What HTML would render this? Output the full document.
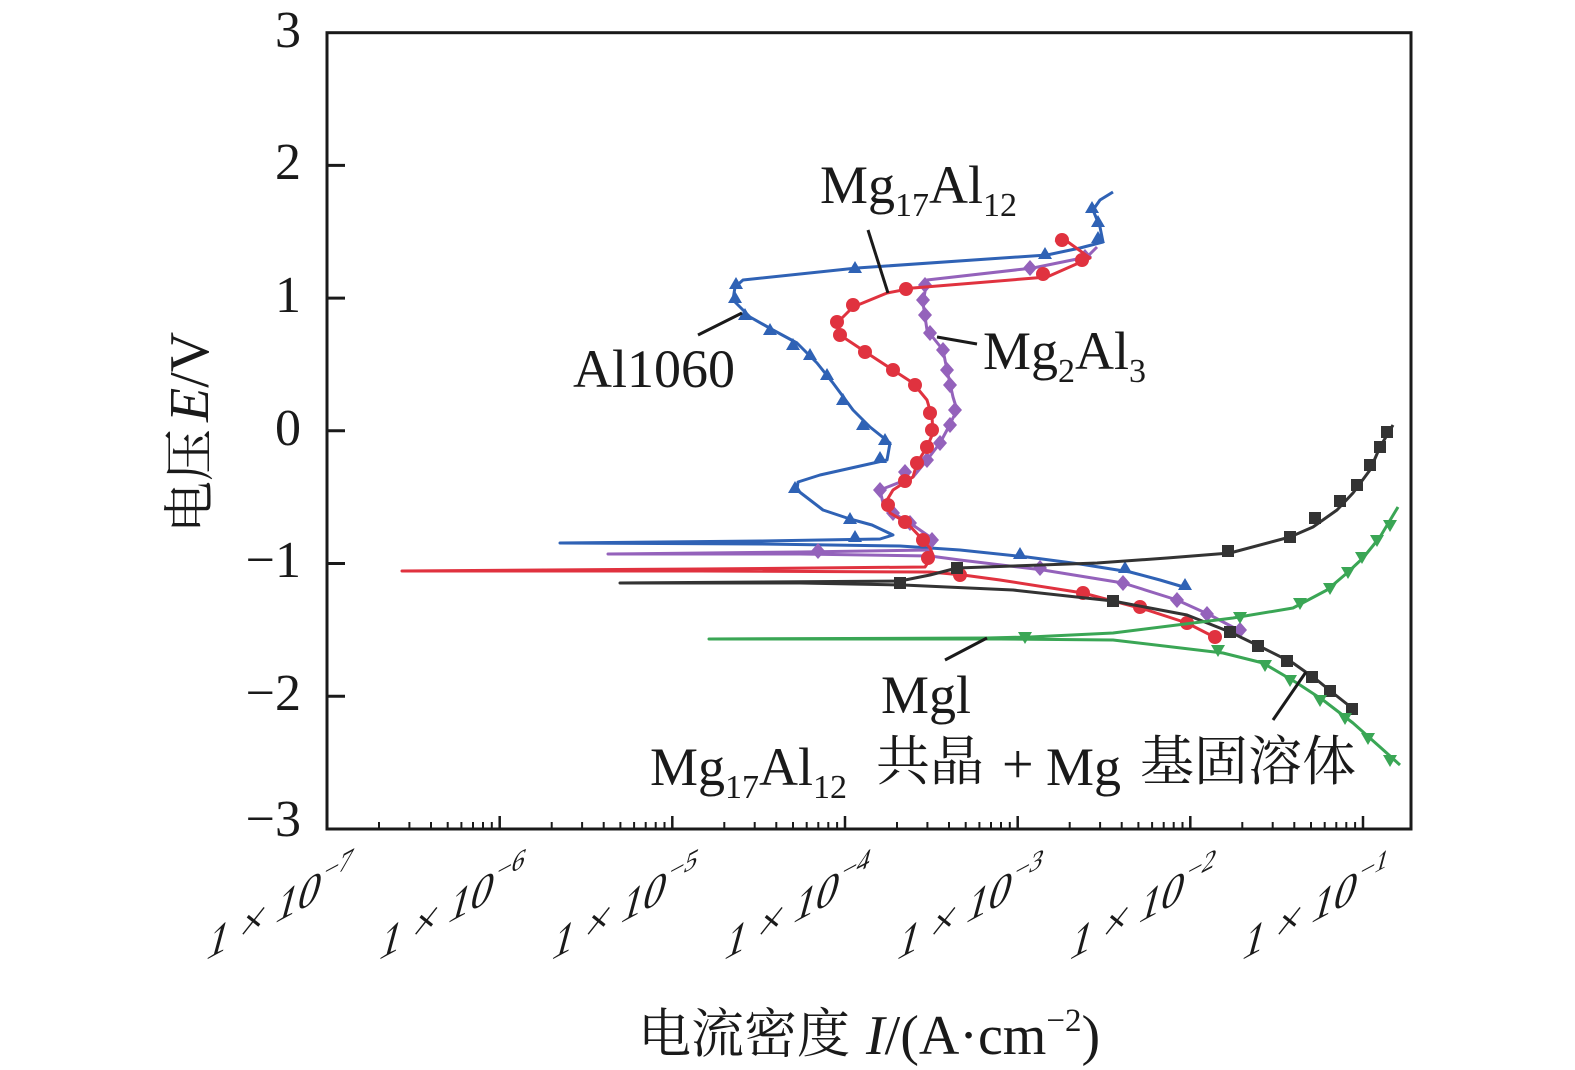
<!DOCTYPE html>
<html>
<head>
<meta charset="utf-8">
<style>
  html, body { margin:0; padding:0; background:#fff; }
  svg { display:block; }
  text { font-family: "Liberation Serif", "Noto Serif CJK SC", serif; fill:#1a1a1a; }
  .cjk { font-family: "Liberation Serif", "Noto Serif CJK SC", "Noto Sans CJK SC", serif; }
</style>
</head>
<body>
<svg width="1575" height="1070" viewBox="0 0 1575 1070" xmlns="http://www.w3.org/2000/svg">
  <rect x="0" y="0" width="1575" height="1070" fill="#fff"/>

  <!-- frame -->
  <rect x="327" y="32.7" width="1084" height="796.3" fill="none" stroke="#1a1a1a" stroke-width="3"/>

  <!-- y ticks -->
  <g stroke="#1a1a1a" stroke-width="3">
    <line x1="327" y1="165.4" x2="345" y2="165.4"/>
    <line x1="327" y1="298.1" x2="345" y2="298.1"/>
    <line x1="327" y1="430.8" x2="345" y2="430.8"/>
    <line x1="327" y1="563.5" x2="345" y2="563.5"/>
    <line x1="327" y1="696.2" x2="345" y2="696.2"/>
  </g>

  <!-- x ticks -->
  <g stroke="#1a1a1a" stroke-width="2.5">
    <line x1="499.7" y1="829" x2="499.7" y2="816"/>
    <line x1="672.3" y1="829" x2="672.3" y2="816"/>
    <line x1="845" y1="829" x2="845" y2="816"/>
    <line x1="1017.7" y1="829" x2="1017.7" y2="816"/>
    <line x1="1190.3" y1="829" x2="1190.3" y2="816"/>
    <line x1="1363" y1="829" x2="1363" y2="816"/>
  </g>
  <g stroke="#1a1a1a" stroke-width="2">
    <line x1="379" y1="829" x2="379" y2="822"/><line x1="409.4" y1="829" x2="409.4" y2="822"/><line x1="431" y1="829" x2="431" y2="822"/><line x1="447.7" y1="829" x2="447.7" y2="822"/><line x1="461.4" y1="829" x2="461.4" y2="822"/><line x1="473" y1="829" x2="473" y2="822"/><line x1="483" y1="829" x2="483" y2="822"/><line x1="491.8" y1="829" x2="491.8" y2="822"/>
    <line x1="551.7" y1="829" x2="551.7" y2="822"/><line x1="582.1" y1="829" x2="582.1" y2="822"/><line x1="603.7" y1="829" x2="603.7" y2="822"/><line x1="620.4" y1="829" x2="620.4" y2="822"/><line x1="634.1" y1="829" x2="634.1" y2="822"/><line x1="645.7" y1="829" x2="645.7" y2="822"/><line x1="655.7" y1="829" x2="655.7" y2="822"/><line x1="664.5" y1="829" x2="664.5" y2="822"/>
    <line x1="724.3" y1="829" x2="724.3" y2="822"/><line x1="754.7" y1="829" x2="754.7" y2="822"/><line x1="776.3" y1="829" x2="776.3" y2="822"/><line x1="793" y1="829" x2="793" y2="822"/><line x1="806.7" y1="829" x2="806.7" y2="822"/><line x1="818.3" y1="829" x2="818.3" y2="822"/><line x1="828.3" y1="829" x2="828.3" y2="822"/><line x1="837.1" y1="829" x2="837.1" y2="822"/>
    <line x1="897" y1="829" x2="897" y2="822"/><line x1="927.4" y1="829" x2="927.4" y2="822"/><line x1="949" y1="829" x2="949" y2="822"/><line x1="965.7" y1="829" x2="965.7" y2="822"/><line x1="979.4" y1="829" x2="979.4" y2="822"/><line x1="991" y1="829" x2="991" y2="822"/><line x1="1001" y1="829" x2="1001" y2="822"/><line x1="1009.8" y1="829" x2="1009.8" y2="822"/>
    <line x1="1069.7" y1="829" x2="1069.7" y2="822"/><line x1="1100.1" y1="829" x2="1100.1" y2="822"/><line x1="1121.7" y1="829" x2="1121.7" y2="822"/><line x1="1138.4" y1="829" x2="1138.4" y2="822"/><line x1="1152.1" y1="829" x2="1152.1" y2="822"/><line x1="1163.7" y1="829" x2="1163.7" y2="822"/><line x1="1173.7" y1="829" x2="1173.7" y2="822"/><line x1="1182.5" y1="829" x2="1182.5" y2="822"/>
    <line x1="1242.3" y1="829" x2="1242.3" y2="822"/><line x1="1272.7" y1="829" x2="1272.7" y2="822"/><line x1="1294.3" y1="829" x2="1294.3" y2="822"/><line x1="1311" y1="829" x2="1311" y2="822"/><line x1="1324.7" y1="829" x2="1324.7" y2="822"/><line x1="1336.3" y1="829" x2="1336.3" y2="822"/><line x1="1346.3" y1="829" x2="1346.3" y2="822"/><line x1="1355.1" y1="829" x2="1355.1" y2="822"/>
  </g>

  <!-- y tick labels -->
  <g font-size="52" text-anchor="end">
    <text x="301" y="47">3</text>
    <text x="301" y="179">2</text>
    <text x="301" y="312">1</text>
    <text x="301" y="445">0</text>
    <text x="301" y="577">−1</text>
    <text x="301" y="710">−2</text>
    <text x="301" y="836">−3</text>
  </g>

  <!-- x tick labels (rotated + slight lean) -->
  <g font-size="50" text-anchor="end">
    <text transform="matrix(0.883,-0.469,-0.259,0.966,345,886)">1 × 10<tspan dy="-20" font-size="30">−7</tspan></text>
    <text transform="matrix(0.883,-0.469,-0.259,0.966,517.7,886)">1 × 10<tspan dy="-20" font-size="30">−6</tspan></text>
    <text transform="matrix(0.883,-0.469,-0.259,0.966,690.3,886)">1 × 10<tspan dy="-20" font-size="30">−5</tspan></text>
    <text transform="matrix(0.883,-0.469,-0.259,0.966,863,886)">1 × 10<tspan dy="-20" font-size="30">−4</tspan></text>
    <text transform="matrix(0.883,-0.469,-0.259,0.966,1035.7,886)">1 × 10<tspan dy="-20" font-size="30">−3</tspan></text>
    <text transform="matrix(0.883,-0.469,-0.259,0.966,1208.3,886)">1 × 10<tspan dy="-20" font-size="30">−2</tspan></text>
    <text transform="matrix(0.883,-0.469,-0.259,0.966,1381,886)">1 × 10<tspan dy="-20" font-size="30">−1</tspan></text>
  </g>

  <!-- axis titles -->
  <text class="cjk" transform="translate(208,533) rotate(-90)" font-size="52">电压<tspan x="111" font-size="56" font-style="italic">E</tspan><tspan font-size="56">/V</tspan></text>
  <text class="cjk" x="638" y="1052" font-size="53">电流密度<tspan x="866" y="1054" font-size="56" font-style="italic">I</tspan><tspan font-size="56">/(A·cm</tspan><tspan dy="-23" font-size="33">−2</tspan><tspan dy="23" font-size="56">)</tspan></text>

  <!-- Blue: Al1060 -->
  <g>
    <polyline fill="none" stroke="#2f62b5" stroke-width="3" stroke-linejoin="round"
      points="1187,588 1160,580 1130,572 1080,564 1027,557 960,550 900,546 760,544 560,543 760,541 880,539 893,535 872,525 850,519 823,510 797,490 798,482 820,475 887,460 890,443 870,427 853,410 833,383 817,363 797,343 773,330 750,317 733,300 735,287 743,280 857,268 1047,255 1080,248 1103,242 1100,227 1093,210 1100,200 1113,192"/>
    <g fill="#2f62b5">
      <polygon points="1185,578 1178,590 1192,590"/>
      <polygon points="1125,561 1118,573 1132,573"/>
      <polygon points="1020,547 1013,559 1027,559"/>
      <polygon points="855,530 848,542 862,542"/>
      <polygon points="850,512 843,524 857,524"/>
      <polygon points="795,481 788,493 802,493"/>
      <polygon points="880,451 873,463 887,463"/>
      <polygon points="885,433 878,445 892,445"/>
      <polygon points="863,418 856,430 870,430"/>
      <polygon points="843,393 836,405 850,405"/>
      <polygon points="827,368 820,380 834,380"/>
      <polygon points="810,348 803,360 817,360"/>
      <polygon points="793,338 786,350 800,350"/>
      <polygon points="770,323 763,335 777,335"/>
      <polygon points="745,308 738,320 752,320"/>
      <polygon points="735,291 728,303 742,303"/>
      <polygon points="736,277 729,289 743,289"/>
      <polygon points="855,261 848,273 862,273"/>
      <polygon points="1045,247 1038,259 1052,259"/>
      <polygon points="1098,231 1091,243 1105,243"/>
      <polygon points="1092,201 1085,213 1099,213"/>
      <polygon points="1098,215 1091,227 1105,227"/>
    </g>
  </g>

  <!-- Purple: Mg2Al3 -->
  <g>
    <polyline fill="none" stroke="#9462bb" stroke-width="3" stroke-linejoin="round"
      points="1242,632 1210,615 1177,600 1123,583 1043,570 960,560 930,556 800,554 608,554 800,552 930,550 933,543 930,537 910,523 893,513 883,503 880,490 913,477 927,460 940,443 947,430 957,410 953,397 947,370 943,350 927,330 923,303 927,280 1033,268 1087,257 1097,247"/>
    <g fill="#9462bb">
      <polygon points="1240,622 1247,630 1240,638 1233,630"/>
      <polygon points="1207,606 1214,614 1207,622 1200,614"/>
      <polygon points="1177,592 1184,600 1177,608 1170,600"/>
      <polygon points="1123,575 1130,583 1123,591 1116,583"/>
      <polygon points="1040,560 1047,568 1040,576 1033,568"/>
      <polygon points="818,543 825,551 818,559 811,551"/>
      <polygon points="932,532 939,540 932,548 925,540"/>
      <polygon points="910,515 917,523 910,531 903,523"/>
      <polygon points="893,505 900,513 893,521 886,513"/>
      <polygon points="880,482 887,490 880,498 873,490"/>
      <polygon points="905,464 912,472 905,480 898,472"/>
      <polygon points="927,452 934,460 927,468 920,460"/>
      <polygon points="940,435 947,443 940,451 933,443"/>
      <polygon points="950,417 957,425 950,433 943,425"/>
      <polygon points="955,402 962,410 955,418 948,410"/>
      <polygon points="950,377 957,385 950,393 943,385"/>
      <polygon points="947,362 954,370 947,378 940,370"/>
      <polygon points="943,342 950,350 943,358 936,350"/>
      <polygon points="930,325 937,333 930,341 923,333"/>
      <polygon points="925,307 932,315 925,323 918,315"/>
      <polygon points="923,292 930,300 923,308 916,300"/>
      <polygon points="925,277 932,285 925,293 918,285"/>
      <polygon points="1030,260 1037,268 1030,276 1023,268"/>
      <polygon points="1085,249 1092,257 1085,265 1078,257"/>
    </g>
  </g>

  <!-- Red: Mg17Al12 -->
  <g>
    <polyline fill="none" stroke="#e0323f" stroke-width="3" stroke-linejoin="round"
      points="1220,640 1187,623 1147,610 1083,593 1000,580 963,575 930,572 700,571 402,571 700,569 925,567 933,555 930,548 923,540 907,523 890,513 887,500 893,490 913,477 917,463 927,447 933,433 932,417 927,400 913,383 893,370 867,353 840,335 837,323 853,307 887,293 913,288 1047,277 1090,258 1068,242 1055,240"/>
    <g fill="#e0323f">
      <circle cx="1215" cy="637" r="7"/>
      <circle cx="1187" cy="623" r="7"/>
      <circle cx="1140" cy="607" r="7"/>
      <circle cx="1083" cy="593" r="7"/>
      <circle cx="960" cy="575" r="7"/>
      <circle cx="928" cy="558" r="7"/>
      <circle cx="923" cy="540" r="7"/>
      <circle cx="905" cy="522" r="7"/>
      <circle cx="888" cy="505" r="7"/>
      <circle cx="905" cy="481" r="7"/>
      <circle cx="917" cy="463" r="7"/>
      <circle cx="927" cy="447" r="7"/>
      <circle cx="932" cy="430" r="7"/>
      <circle cx="930" cy="413" r="7"/>
      <circle cx="915" cy="385" r="7"/>
      <circle cx="893" cy="370" r="7"/>
      <circle cx="865" cy="352" r="7"/>
      <circle cx="840" cy="335" r="7"/>
      <circle cx="837" cy="322" r="7"/>
      <circle cx="853" cy="305" r="7"/>
      <circle cx="906" cy="289" r="7"/>
      <circle cx="1043" cy="274" r="7"/>
      <circle cx="1082" cy="260" r="7"/>
      <circle cx="1062" cy="240" r="7"/>
    </g>
  </g>

  <!-- Black -->
  <g>
    <polyline fill="none" stroke="#333333" stroke-width="3" stroke-linejoin="round"
      points="1357,712 1333,693 1317,680 1293,663 1263,648 1230,632 1187,615 1113,601 1013,590 903,585 800,583 620,583 900,581 930,575 957,568 1097,563 1167,558 1230,553 1290,537 1313,527 1337,510 1353,493 1370,470 1380,447 1393,425"/>
    <g fill="#333333">
      <rect x="1346" y="703" width="12" height="12"/>
      <rect x="1324" y="685" width="12" height="12"/>
      <rect x="1306" y="671" width="12" height="12"/>
      <rect x="1281" y="655" width="12" height="12"/>
      <rect x="1252" y="640" width="12" height="12"/>
      <rect x="1224" y="626" width="12" height="12"/>
      <rect x="1107" y="595" width="12" height="12"/>
      <rect x="894" y="577" width="12" height="12"/>
      <rect x="951" y="562" width="12" height="12"/>
      <rect x="1222" y="545" width="12" height="12"/>
      <rect x="1284" y="531" width="12" height="12"/>
      <rect x="1309" y="512" width="12" height="12"/>
      <rect x="1334" y="495" width="12" height="12"/>
      <rect x="1351" y="479" width="12" height="12"/>
      <rect x="1364" y="459" width="12" height="12"/>
      <rect x="1374" y="441" width="12" height="12"/>
      <rect x="1381" y="426" width="12" height="12"/>
    </g>
  </g>

  <!-- Green: Mgl -->
  <g>
    <polyline fill="none" stroke="#3aa655" stroke-width="3" stroke-linejoin="round"
      points="1400,765 1380,747 1353,723 1323,700 1297,683 1263,663 1223,653 1113,640 1000,639 709,639 987,638 1030,637 1113,633 1233,618 1293,608 1327,590 1347,573 1363,558 1380,537 1398,507"/>
    <g fill="#3aa655">
      <polygon points="1383,755 1397,755 1390,767"/>
      <polygon points="1361,733 1375,733 1368,745"/>
      <polygon points="1338,713 1352,713 1345,725"/>
      <polygon points="1313,695 1327,695 1320,707"/>
      <polygon points="1283,675 1297,675 1290,687"/>
      <polygon points="1258,660 1272,660 1265,672"/>
      <polygon points="1211,645 1225,645 1218,657"/>
      <polygon points="1018,632 1032,632 1025,644"/>
      <polygon points="1233,612 1247,612 1240,624"/>
      <polygon points="1293,598 1307,598 1300,610"/>
      <polygon points="1323,583 1337,583 1330,595"/>
      <polygon points="1341,567 1355,567 1348,579"/>
      <polygon points="1355,552 1369,552 1362,564"/>
      <polygon points="1370,535 1384,535 1377,547"/>
      <polygon points="1383,520 1397,520 1390,532"/>
    </g>
  </g>

  <!-- leader lines -->
  <g stroke="#1a1a1a" stroke-width="3">
    <line x1="868" y1="230" x2="888" y2="293"/>
    <line x1="698" y1="335" x2="742" y2="313"/>
    <line x1="937" y1="337" x2="977" y2="344"/>
    <line x1="945" y1="660" x2="987" y2="638"/>
    <line x1="1273" y1="720" x2="1306" y2="672"/>
  </g>

  <!-- annotations -->
  <text x="820" y="203" font-size="54">Mg<tspan dy="13" font-size="34">17</tspan><tspan dy="-13">Al</tspan><tspan dy="13" font-size="34">12</tspan></text>
  <text x="573" y="387" font-size="54">Al1060</text>
  <text x="983" y="369" font-size="54">Mg<tspan dy="13" font-size="34">2</tspan><tspan dy="-13">Al</tspan><tspan dy="13" font-size="34">3</tspan></text>
  <text x="881" y="713" font-size="54">Mgl</text>
  <text x="650" y="785" font-size="54">Mg<tspan dy="13" font-size="34">17</tspan><tspan dy="-13">Al</tspan><tspan dy="13" font-size="34">12</tspan></text>
  <text class="cjk" x="876" y="780" font-size="54">共晶</text>
  <text x="1002" y="783" font-size="56">+</text>
  <text x="1046" y="785" font-size="54">Mg</text>
  <text class="cjk" x="1140" y="780" font-size="54">基固溶体</text>
</svg>
</body>
</html>
